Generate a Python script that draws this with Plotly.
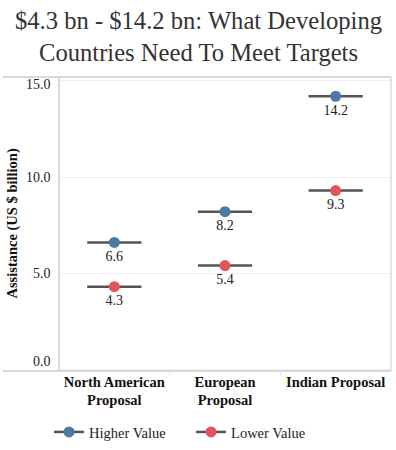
import plotly.graph_objects as go

categories = ["North American<br>Proposal", "European<br>Proposal", "Indian Proposal"]
higher_values = [6.6, 8.2, 14.2]
lower_values = [4.3, 5.4, 9.3]
y_ticks = [0, 5, 10, 15]
y_tick_labels = ["0.0", "5.0", "10.0", "15.0"]
title_text = "&#36;4.3 bn - &#36;14.2 bn: What Developing<br>Countries Need To Meet Targets"
y_title = "Assistance (US &#36; billion)"

BLUE = "#4e79a7"
RED = "#e15759"
LINE = "#555555"
SERIF = "Liberation Serif"
HALF = 0.245

fig = go.Figure()

def segs(vals):
    xs, ys = [], []
    for i, v in enumerate(vals):
        xs += [i - HALF, i + HALF, None]
        ys += [v, v, None]
    return xs, ys

for vals, color, name in [(higher_values, BLUE, "Higher Value"), (lower_values, RED, "Lower Value")]:
    xs, ys = segs(vals)
    fig.add_trace(go.Scatter(x=xs, y=ys, mode="lines", line=dict(color=LINE, width=2.5),
                             showlegend=False, hoverinfo="skip"))
    fig.add_trace(go.Scatter(x=list(range(len(vals))), y=vals, mode="markers+text",
                             marker=dict(color=color, size=11),
                             text=[f"{v:.1f}" for v in vals], textposition="bottom center",
                             textfont=dict(family=SERIF, size=14, color="#222222"),
                             showlegend=False, name=name))
    fig.add_trace(go.Scatter(x=[None], y=[None], mode="lines+markers", name=name,
                             line=dict(color=LINE, width=2.5),
                             marker=dict(color=color, size=11)))

# frame lines extending left like the reference
for yp in [0, 1]:
    fig.add_shape(type="line", xref="paper", yref="paper", x0=-0.169, x1=1.0, y0=yp, y1=yp,
                  line=dict(color="#cccccc", width=1.5))
fig.add_shape(type="line", xref="paper", yref="paper", x0=0, x1=0, y0=0, y1=1,
              line=dict(color="#cccccc", width=1.5))
fig.add_shape(type="line", xref="paper", yref="paper", x0=1, x1=1, y0=0, y1=1,
              line=dict(color="#cccccc", width=1))
for xv in [0.5, 1.5]:
    fig.add_shape(type="line", xref="x", yref="paper", x0=xv, x1=xv, y0=0, y1=-0.015,
                  line=dict(color="#dddddd", width=1))

# y tick labels as annotations (Tableau nudges the end labels inward)
ymin, ymax = -0.08, 15.2
for v, lab in zip(y_ticks, y_tick_labels):
    shift = 0
    if v == max(y_ticks):
        shift = -4
    elif v == min(y_ticks):
        shift = 8
    fig.add_annotation(x=0, xref="paper", y=v, yref="y", text=lab, showarrow=False,
                       xanchor="right", yanchor="middle", xshift=-6, yshift=shift,
                       font=dict(family=SERIF, size=14, color="#222222"))

# y axis title
fig.add_annotation(x=-0.143, xref="paper", y=0.5, yref="paper",
                   text="<b>" + y_title + "</b>", textangle=-90, showarrow=False,
                   xanchor="center", yanchor="middle",
                   font=dict(family=SERIF, size=14.5, color="#111111"))

# title
fig.add_annotation(x=0.42, xref="paper", y=1, yref="paper", yanchor="bottom", yshift=9,
                   text=title_text, showarrow=False, xanchor="center",
                   font=dict(family=SERIF, size=24.6, color="#333333"))

fig.update_layout(
    width=396, height=450,
    font=dict(family=SERIF),
    margin=dict(l=59, r=5, t=77, b=79, autoexpand=False),
    paper_bgcolor="white", plot_bgcolor="white",
    xaxis=dict(range=[-0.5, 2.5], tickvals=list(range(len(categories))), ticktext=categories,
               showgrid=False, zeroline=False, showline=False, ticks="", automargin=False,
               tickfont=dict(family=SERIF, size=14.5, color="#111111", weight="bold")),
    yaxis=dict(range=[ymin, ymax], tickvals=y_ticks, showticklabels=False,
               showgrid=True, gridcolor="#eeeeee", gridwidth=1, zeroline=False, showline=False,
               ticks="", automargin=False),
    legend=dict(orientation="h", x=-0.03, xanchor="left", y=-0.153, yanchor="top",
                entrywidth=97, entrywidthmode="pixels",
                font=dict(family=SERIF, size=14.5, color="#222222")),
    showlegend=True,
)

fig.write_html("out.html", config={"displayModeBar": False},
               post_script="document.body.style.margin='0';")
